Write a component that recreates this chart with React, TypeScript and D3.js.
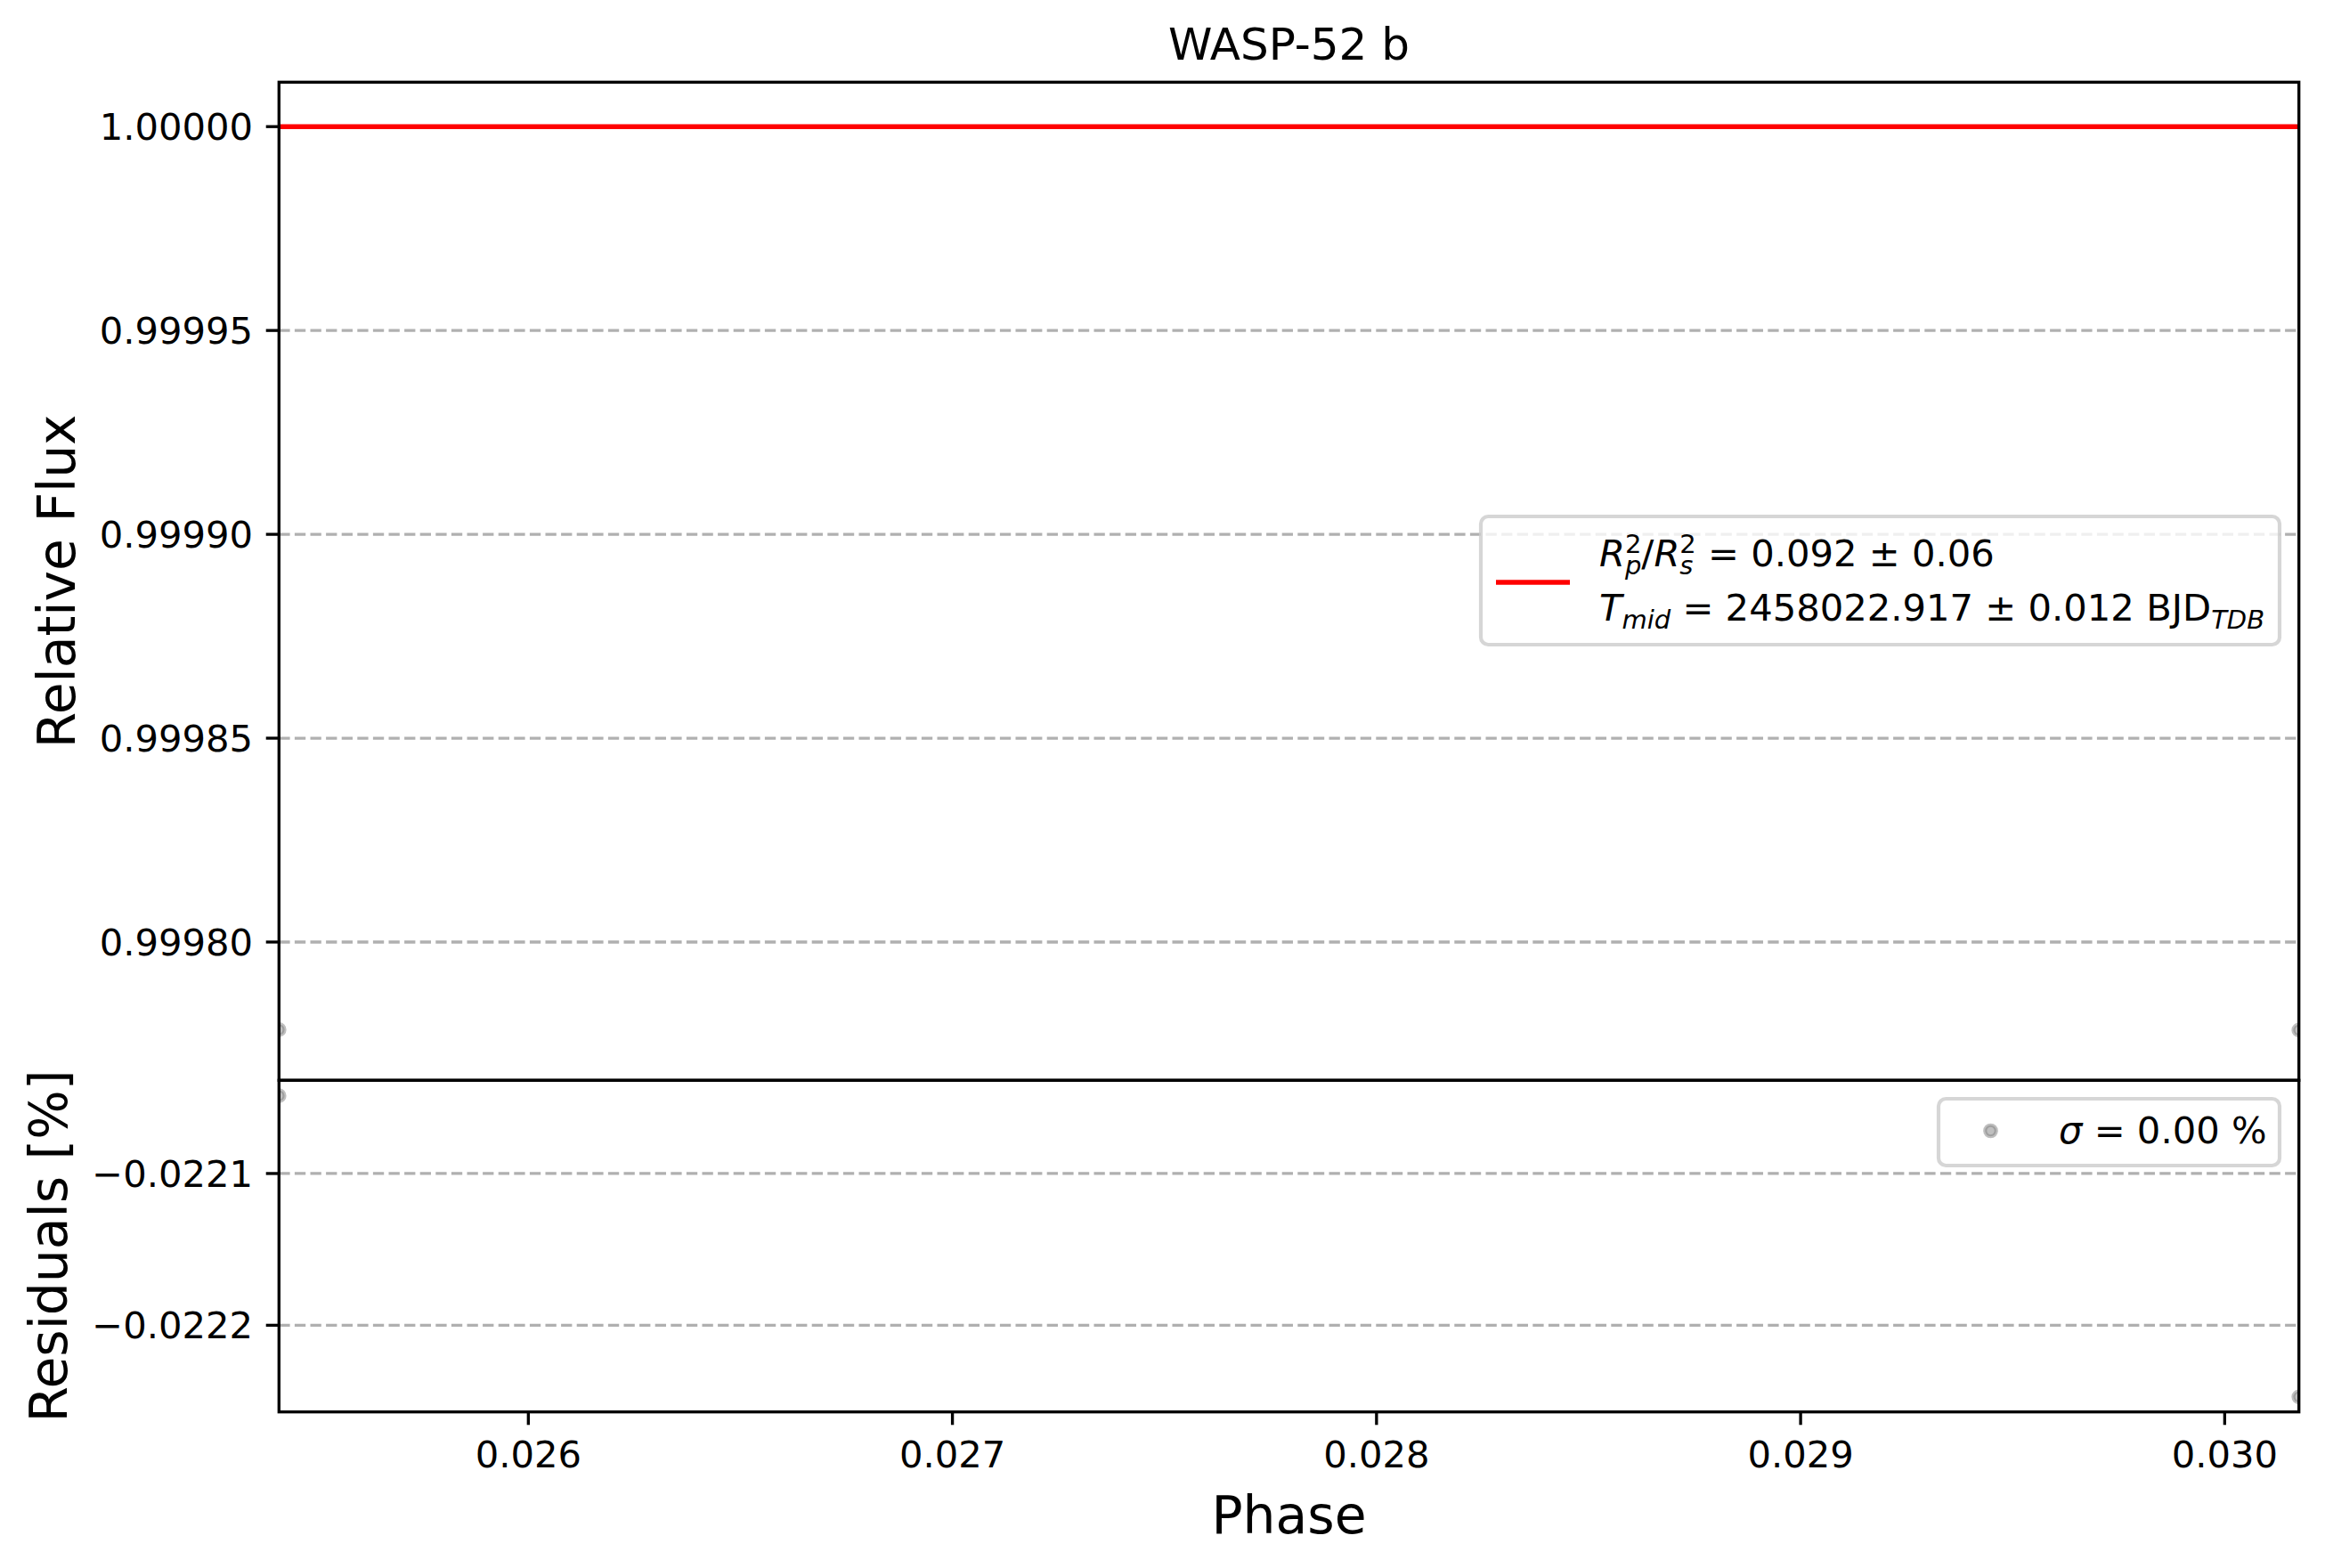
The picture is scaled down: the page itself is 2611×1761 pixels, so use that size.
import React from 'react';
import * as d3 from 'd3';

// phase values of the two exposures and of the model curve
const phase = [0.025412, 0.030175];
const modelFlux = [1.0, 1.0];
const dataFlux = [0.9997785, 0.9997784];
const residuals = [-0.0220488, -0.0222472];

const xTicks = [0.026, 0.027, 0.028, 0.029, 0.03];
const fluxTicks = [1.0, 0.99995, 0.9999, 0.99985, 0.9998];
const residTicks = [-0.0221, -0.0222];

const fluxLimits = [0.99976608, 1.0000109];
const residLimits = [-0.0222571, -0.0220386];

const W = 2611;
const H = 1761;
const left = 313.3;
const right = 2581.7;
const mainTop = 92.3;
const split = 1213.3;
const bottom = 1585.7;

const font = 'DejaVu Sans, Liberation Sans, sans-serif';
const tickFs = 41.7;
const labelFs = 58.3;
const tickLen = 14.6;
const lw = 3.33;

const App: React.FC = () => {
  const x = d3
    .scaleLinear()
    .domain(d3.extent(phase) as [number, number])
    .range([left, right]);
  const yMain = d3.scaleLinear().domain(fluxLimits).range([split, mainTop]);
  const yRes = d3.scaleLinear().domain(residLimits).range([bottom, split]);

  const modelLine = d3
    .line<number>()
    .x((_, i) => x(phase[i]))
    .y((d) => yMain(d));

  const fmtResid = (v: number) => (v < 0 ? '\u2212' : '') + Math.abs(v).toFixed(4);

  const grid = (y: number, key: string) => (
    <line
      key={key}
      x1={left}
      x2={right}
      y1={y}
      y2={y}
      stroke="#b0b0b0"
      strokeWidth={lw}
      strokeDasharray="12.3 5.3"
    />
  );

  const marker = (cx: number, cy: number, key: string) => (
    <circle
      key={key}
      cx={cx}
      cy={cy}
      r={6.25}
      fill="gray"
      fillOpacity={0.5}
      stroke="gray"
      strokeOpacity={0.5}
      strokeWidth={4.17}
    />
  );

  return (
    <svg
      width={W}
      height={H}
      style={{ position: 'absolute', left: 0, top: 0, background: '#fff' }}
      fontFamily={font}
    >
      <defs>
        <clipPath id="clip-main">
          <rect x={left} y={mainTop} width={right - left} height={split - mainTop} />
        </clipPath>
        <clipPath id="clip-res">
          <rect x={left} y={split} width={right - left} height={bottom - split} />
        </clipPath>
      </defs>
      <rect x={0} y={0} width={W} height={H} fill="#fff" />

      {/* title */}
      <text x={(left + right) / 2} y={66.7} fontSize={50} textAnchor="middle">
        WASP-52 b
      </text>

      {/* grids */}
      {fluxTicks.map((t) => grid(yMain(t), `gm${t}`))}
      {residTicks.map((t) => grid(yRes(t), `gr${t}`))}

      {/* main panel data */}
      <g clipPath="url(#clip-main)">
        {dataFlux.map((f, i) => marker(x(phase[i]), yMain(f), `dm${i}`))}
        <path d={modelLine(modelFlux) || ''} fill="none" stroke="red" strokeWidth={5.5} />
      </g>

      {/* residual panel data */}
      <g clipPath="url(#clip-res)">
        {residuals.map((r, i) => marker(x(phase[i]), yRes(r), `dr${i}`))}
      </g>

      {/* spines */}
      <rect
        x={left}
        y={mainTop}
        width={right - left}
        height={split - mainTop}
        fill="none"
        stroke="#000"
        strokeWidth={lw}
      />
      <rect
        x={left}
        y={split}
        width={right - left}
        height={bottom - split}
        fill="none"
        stroke="#000"
        strokeWidth={lw}
      />

      {/* y ticks main */}
      {fluxTicks.map((t) => (
        <g key={`ym${t}`}>
          <line x1={left - tickLen} x2={left} y1={yMain(t)} y2={yMain(t)} stroke="#000" strokeWidth={lw} />
          <text x={left - 2 * tickLen} y={yMain(t)} dy="0.36em" fontSize={tickFs} textAnchor="end">
            {t.toFixed(5)}
          </text>
        </g>
      ))}

      {/* y ticks residuals */}
      {residTicks.map((t) => (
        <g key={`yr${t}`}>
          <line x1={left - tickLen} x2={left} y1={yRes(t)} y2={yRes(t)} stroke="#000" strokeWidth={lw} />
          <text x={left - 2 * tickLen} y={yRes(t)} dy="0.36em" fontSize={tickFs} textAnchor="end">
            {fmtResid(t)}
          </text>
        </g>
      ))}

      {/* x ticks */}
      {xTicks.map((t) => (
        <g key={`x${t}`}>
          <line x1={x(t)} x2={x(t)} y1={bottom} y2={bottom + tickLen} stroke="#000" strokeWidth={lw} />
          <text x={x(t)} y={1648} fontSize={tickFs} textAnchor="middle">
            {t.toFixed(3)}
          </text>
        </g>
      ))}

      {/* axis labels */}
      <text x={(left + right) / 2} y={1722} fontSize={labelFs} textAnchor="middle">
        Phase
      </text>
      <text
        transform={`translate(84,${(mainTop + split) / 2}) rotate(-90)`}
        fontSize={labelFs}
        textAnchor="middle"
      >
        Relative Flux
      </text>
      <text
        transform={`translate(75,${(split + bottom) / 2}) rotate(-90)`}
        fontSize={labelFs}
        textAnchor="middle"
      >
        Residuals [%]
      </text>

      {/* legend: model */}
      <g>
        <rect
          x={1663}
          y={580}
          width={897}
          height={144}
          rx={8.3}
          fill="#fff"
          fillOpacity={0.8}
          stroke="#cccccc"
          strokeOpacity={0.8}
          strokeWidth={4.17}
        />
        <line x1={1680} x2={1763} y1={654} y2={654} stroke="red" strokeWidth={5.5} />
        <text x={1796} y={636} fontSize={tickFs}>
          <tspan fontStyle="italic">R</tspan>
          <tspan fontSize={29} dy={-15}>2</tspan>
          <tspan fontSize={29} fontStyle="italic" dx={-18.5} dy={24}>p</tspan>
          <tspan dy={-9}>/</tspan>
          <tspan fontStyle="italic">R</tspan>
          <tspan fontSize={29} dy={-15}>2</tspan>
          <tspan fontSize={29} fontStyle="italic" dx={-18.5} dy={24}>s</tspan>
          <tspan dx={3.4} dy={-9}>{' = 0.092 \u00b1 0.06'}</tspan>
        </text>
        <text x={1796} y={697} fontSize={tickFs}>
          <tspan fontStyle="italic">T</tspan>
          <tspan fontSize={29} fontStyle="italic" dy={9}>mid</tspan>
          <tspan dy={-9}>{' = 2458022.917 \u00b1 0.012 BJD'}</tspan>
          <tspan fontSize={29} fontStyle="italic" dy={9}>TDB</tspan>
        </text>
      </g>

      {/* legend: residuals */}
      <g>
        <rect
          x={2177}
          y={1234}
          width={383}
          height={75}
          rx={8.3}
          fill="#fff"
          fillOpacity={0.8}
          stroke="#cccccc"
          strokeOpacity={0.8}
          strokeWidth={4.17}
        />
        {marker(2235.5, 1270, 'lg')}
        <text x={2312} y={1284} fontSize={tickFs}>
          <tspan fontStyle="italic">{'\u03c3'}</tspan>
          <tspan>{' = 0.00 %'}</tspan>
        </text>
      </g>
    </svg>
  );
};

export default App;
